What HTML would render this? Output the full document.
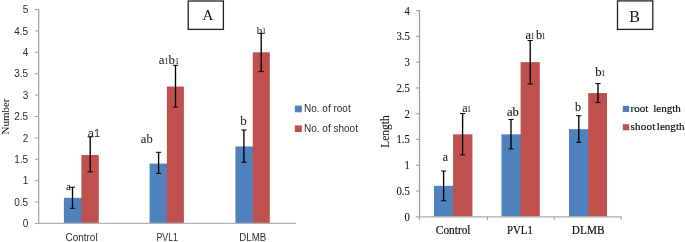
<!DOCTYPE html><html><head><meta charset="utf-8"><style>html,body{margin:0;padding:0;background:#fff}svg{display:block;will-change:transform;opacity:0.999}text{font-family:"Liberation Sans",sans-serif;fill:#2c2c2c}.s{font-family:"Liberation Serif",serif;fill:#111}.b{stroke:#111;stroke-width:0.2px}.b1{stroke:#111;stroke-width:0.08px}</style></head><body>
<svg width="685" height="242" viewBox="0 0 685 242">
<rect width="685" height="242" fill="#fff"/>
<rect x="63.90" y="197.82" width="18.20" height="25.68" fill="#4F81BD"/>
<rect x="81.40" y="155.02" width="17.40" height="68.48" fill="#C0504D"/>
<path d="M72.5 187.2V208.3" stroke="#000" stroke-width="1.35" fill="none"/>
<path d="M69.90 187.2H75.10M69.90 208.3H75.10" stroke="#000" stroke-width="1" fill="none"/>
<path d="M90.2 136.8V171.9" stroke="#000" stroke-width="1.35" fill="none"/>
<path d="M87.60 136.8H92.80M87.60 171.9H92.80" stroke="#000" stroke-width="1" fill="none"/>
<rect x="149.60" y="163.58" width="18.00" height="59.92" fill="#4F81BD"/>
<rect x="166.90" y="86.54" width="17.00" height="136.96" fill="#C0504D"/>
<path d="M158.6 152.3V173.4" stroke="#000" stroke-width="1.35" fill="none"/>
<path d="M156.00 152.3H161.20M156.00 173.4H161.20" stroke="#000" stroke-width="1" fill="none"/>
<path d="M175.5 65.3V107.0" stroke="#000" stroke-width="1.35" fill="none"/>
<path d="M172.90 65.3H178.10M172.90 107.0H178.10" stroke="#000" stroke-width="1" fill="none"/>
<rect x="235.40" y="146.46" width="18.10" height="77.04" fill="#4F81BD"/>
<rect x="252.80" y="52.30" width="17.00" height="171.20" fill="#C0504D"/>
<path d="M243.9 130.0V162.2" stroke="#000" stroke-width="1.35" fill="none"/>
<path d="M241.30 130.0H246.50M241.30 162.2H246.50" stroke="#000" stroke-width="1" fill="none"/>
<path d="M261.2 33.3V71.6" stroke="#000" stroke-width="1.35" fill="none"/>
<path d="M258.60 33.3H263.80M258.60 71.6H263.80" stroke="#000" stroke-width="1" fill="none"/>
<path d="M38.7 9.0V224.0" stroke="#a2a2a2" stroke-width="1.2" fill="none"/>
<path d="M38.2 223.4H295.9" stroke="#b2b2b2" stroke-width="1.15" fill="none"/>
<path d="M35.0 223.50H38.7" stroke="#a4a4a4" stroke-width="1.1"/>
<text x="28.2" y="227.10" font-size="10" text-anchor="end">0</text>
<path d="M35.0 202.10H38.7" stroke="#a4a4a4" stroke-width="1.1"/>
<text x="28.2" y="205.70" font-size="10" text-anchor="end">0.5</text>
<path d="M35.0 180.70H38.7" stroke="#a4a4a4" stroke-width="1.1"/>
<text x="28.2" y="184.30" font-size="10" text-anchor="end">1</text>
<path d="M35.0 159.30H38.7" stroke="#a4a4a4" stroke-width="1.1"/>
<text x="28.2" y="162.90" font-size="10" text-anchor="end">1.5</text>
<path d="M35.0 137.90H38.7" stroke="#a4a4a4" stroke-width="1.1"/>
<text x="28.2" y="141.50" font-size="10" text-anchor="end">2</text>
<path d="M35.0 116.50H38.7" stroke="#a4a4a4" stroke-width="1.1"/>
<text x="28.2" y="120.10" font-size="10" text-anchor="end">2.5</text>
<path d="M35.0 95.10H38.7" stroke="#a4a4a4" stroke-width="1.1"/>
<text x="28.2" y="98.70" font-size="10" text-anchor="end">3</text>
<path d="M35.0 73.70H38.7" stroke="#a4a4a4" stroke-width="1.1"/>
<text x="28.2" y="77.30" font-size="10" text-anchor="end">3.5</text>
<path d="M35.0 52.30H38.7" stroke="#a4a4a4" stroke-width="1.1"/>
<text x="28.2" y="55.90" font-size="10" text-anchor="end">4</text>
<path d="M35.0 30.90H38.7" stroke="#a4a4a4" stroke-width="1.1"/>
<text x="28.2" y="34.50" font-size="10" text-anchor="end">4.5</text>
<path d="M35.0 9.50H38.7" stroke="#a4a4a4" stroke-width="1.1"/>
<text x="28.2" y="13.10" font-size="10" text-anchor="end">5</text>
<text x="65.43" y="240.8" font-size="10" textLength="32.2" lengthAdjust="spacingAndGlyphs">Control</text>
<text x="156.38" y="240.8" font-size="10" textLength="21.6" lengthAdjust="spacingAndGlyphs">PVL1</text>
<text x="239.32" y="240.8" font-size="10" textLength="27.0" lengthAdjust="spacingAndGlyphs">DLMB</text>
<text class="s" transform="translate(9.3 116.5) rotate(-90)" font-size="11" text-anchor="middle">Number</text>
<rect x="294.8" y="105.6" width="7" height="6.7" fill="#4F81BD"/><text x="304" y="111.9" font-size="10">No. of root</text>
<rect x="294.8" y="125.4" width="7" height="6.7" fill="#C0504D"/><text x="304" y="131.8" font-size="10">No. of shoot</text>
<text x="66" y="190" class="s" font-size="11">a</text>
<text x="87.8" y="136.8" font-size="11">a1</text>
<text x="140.8" y="143" class="s" font-size="12.6">ab</text>
<text x="158.7" y="64.2" class="s" font-size="13">a<tspan font-size="8">1</tspan>b<tspan font-size="8">1</tspan></text>
<text x="240.3" y="125.3" class="s" font-size="13">b</text>
<text x="256.7" y="33.5" class="s" font-size="11">b<tspan font-size="7.5">1</tspan></text>
<rect x="188.2" y="1" width="35.2" height="28.4" fill="#fff" stroke="#222" stroke-width="1.3"/>
<text x="208" y="20.2" class="s" font-size="15" text-anchor="middle">A</text>
<rect x="434.00" y="185.87" width="19.80" height="30.63" fill="#4F81BD"/>
<rect x="453.10" y="134.32" width="19.30" height="82.18" fill="#C0504D"/>
<path d="M443.6 171.0V200.8" stroke="#000" stroke-width="1.35" fill="none"/>
<path d="M441.00 171.0H446.20M441.00 200.8H446.20" stroke="#000" stroke-width="1" fill="none"/>
<path d="M462.6 113.5V154.9" stroke="#000" stroke-width="1.35" fill="none"/>
<path d="M460.00 113.5H465.20M460.00 154.9H465.20" stroke="#000" stroke-width="1" fill="none"/>
<rect x="501.50" y="134.32" width="19.80" height="82.18" fill="#4F81BD"/>
<rect x="520.60" y="62.15" width="19.20" height="154.35" fill="#C0504D"/>
<path d="M511.0 119.5V148.9" stroke="#000" stroke-width="1.35" fill="none"/>
<path d="M508.40 119.5H513.60M508.40 148.9H513.60" stroke="#000" stroke-width="1" fill="none"/>
<path d="M530.2 40.5V84.0" stroke="#000" stroke-width="1.35" fill="none"/>
<path d="M527.60 40.5H532.80M527.60 84.0H532.80" stroke="#000" stroke-width="1" fill="none"/>
<rect x="569.00" y="129.17" width="19.90" height="87.33" fill="#4F81BD"/>
<rect x="588.20" y="93.08" width="18.80" height="123.42" fill="#C0504D"/>
<path d="M578.8 115.7V142.3" stroke="#000" stroke-width="1.35" fill="none"/>
<path d="M576.20 115.7H581.40M576.20 142.3H581.40" stroke="#000" stroke-width="1" fill="none"/>
<path d="M598.0 83.6V102.6" stroke="#000" stroke-width="1.35" fill="none"/>
<path d="M595.40 83.6H600.60M595.40 102.6H600.60" stroke="#000" stroke-width="1" fill="none"/>
<path d="M419.5 10.10V220.0" stroke="#9c9c9c" stroke-width="1.2" fill="none"/>
<path d="M419.5 216.8H621.7" stroke="#acacac" stroke-width="1.15" fill="none"/>
<path d="M487.40 216.8V220.0" stroke="#a6a6a6" stroke-width="1.1"/>
<path d="M554.30 216.8V220.0" stroke="#a6a6a6" stroke-width="1.1"/>
<path d="M621.20 216.8V220.0" stroke="#a6a6a6" stroke-width="1.1"/>
<path d="M415.9 216.80H419.5" stroke="#a4a4a4" stroke-width="1.1"/>
<text class="s b1" transform="translate(409.9 220.70) scale(0.91 1)" font-size="11.8" text-anchor="end">0</text>
<path d="M415.9 191.03H419.5" stroke="#a4a4a4" stroke-width="1.1"/>
<text class="s b1" transform="translate(409.9 194.93) scale(0.91 1)" font-size="11.8" text-anchor="end">0.5</text>
<path d="M415.9 165.25H419.5" stroke="#a4a4a4" stroke-width="1.1"/>
<text class="s b1" transform="translate(409.9 169.15) scale(0.91 1)" font-size="11.8" text-anchor="end">1</text>
<path d="M415.9 139.48H419.5" stroke="#a4a4a4" stroke-width="1.1"/>
<text class="s b1" transform="translate(409.9 143.38) scale(0.91 1)" font-size="11.8" text-anchor="end">1.5</text>
<path d="M415.9 113.70H419.5" stroke="#a4a4a4" stroke-width="1.1"/>
<text class="s b1" transform="translate(409.9 117.60) scale(0.91 1)" font-size="11.8" text-anchor="end">2</text>
<path d="M415.9 87.93H419.5" stroke="#a4a4a4" stroke-width="1.1"/>
<text class="s b1" transform="translate(409.9 91.83) scale(0.91 1)" font-size="11.8" text-anchor="end">2.5</text>
<path d="M415.9 62.15H419.5" stroke="#a4a4a4" stroke-width="1.1"/>
<text class="s b1" transform="translate(409.9 66.05) scale(0.91 1)" font-size="11.8" text-anchor="end">3</text>
<path d="M415.9 36.38H419.5" stroke="#a4a4a4" stroke-width="1.1"/>
<text class="s b1" transform="translate(409.9 40.28) scale(0.91 1)" font-size="11.8" text-anchor="end">3.5</text>
<path d="M415.9 10.60H419.5" stroke="#a4a4a4" stroke-width="1.1"/>
<text class="s b1" transform="translate(409.9 14.50) scale(0.91 1)" font-size="11.8" text-anchor="end">4</text>
<text class="s b" transform="translate(453.15 233.6) scale(0.93 1)" font-size="12.2" text-anchor="middle">Control</text>
<text class="s b" transform="translate(519.95 233.6) scale(0.885 1)" font-size="12.2" text-anchor="middle">PVL1</text>
<text class="s b" transform="translate(588.15 233.6) scale(0.925 1)" font-size="12.2" text-anchor="middle">DLMB</text>
<text class="s b1" transform="translate(389 131.5) rotate(-90) scale(0.955 1)" font-size="12" text-anchor="middle">Length</text>
<rect x="622.8" y="105.9" width="6.4" height="6.1" fill="#4F81BD"/><text class="s b" y="112" font-size="11.1"><tspan x="630.5">root</tspan><tspan x="653.2">length</tspan></text>
<rect x="622.8" y="124.2" width="6.4" height="6.1" fill="#C0504D"/><text class="s b" y="130.1" font-size="11.1"><tspan x="630.5" letter-spacing="0.2">shoot</tspan><tspan x="656.8">length</tspan></text>
<text transform="translate(442.8 160.7) scale(0.92 1)" class="s b1" font-size="13">a</text>
<text transform="translate(462.2 111.8) scale(0.92 1)" class="s b1" font-size="13">a<tspan font-size="7.8" dx="-0.3">1</tspan></text>
<text transform="translate(506.9 115.8) scale(0.98 1)" class="s b1" font-size="13">ab</text>
<text transform="translate(525.6 38.5) scale(0.95 1)" class="s b1" font-size="13">a<tspan font-size="7.8" dx="-0.3">1</tspan><tspan dx="1.5">b</tspan><tspan font-size="7.8" dx="-0.3">1</tspan></text>
<text transform="translate(575.0 110.6) scale(1.0 1)" class="s b1" font-size="12.2">b</text>
<text transform="translate(595.3 75.8) scale(0.98 1)" class="s b1" font-size="13">b<tspan font-size="7.8" dx="-0.3">1</tspan></text>
<rect x="617.5" y="0.9" width="35.3" height="28.5" fill="#fff" stroke="#222" stroke-width="1.3"/>
<text x="634.5" y="21.8" class="s" font-size="16" text-anchor="middle">B</text>
</svg></body></html>
